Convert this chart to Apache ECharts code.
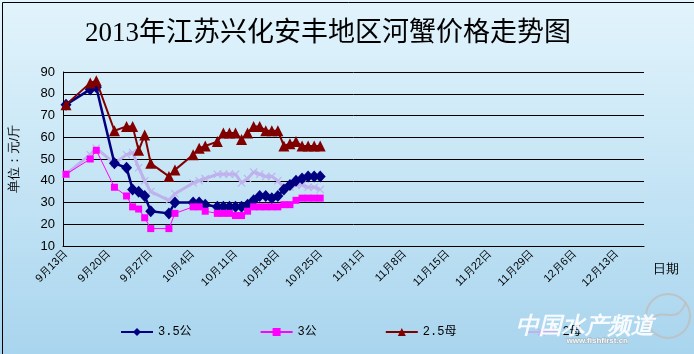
<!DOCTYPE html>
<html>
<head>
<meta charset="utf-8">
<script src="https://cdn.jsdelivr.net/npm/echarts@6/dist/echarts.min.js"></script>
<style>
    html, body { margin: 0; padding: 0; }
    #crab { width: 694px; height: 354px; }
</style>
</head>
<body>
<div id="crab"></div>
<script>
// observation dates
const obsDates = [
    '9月13日', '9月17日', '9月18日', '9月21日', '9月23日', '9月24日', '9月25日', '9月26日',
    '9月27日', '9月30日', '10月1日', '10月4日', '10月5日', '10月6日', '10月8日', '10月9日',
    '10月10日', '10月11日', '10月12日', '10月13日', '10月14日', '10月15日', '10月16日', '10月17日',
    '10月18日', '10月19日', '10月20日', '10月21日', '10月22日', '10月23日', '10月24日', '10月25日',
];
// prices, yuan per jin
const male35 = [75, 82, 83, 48, 46, 36, 35, 33, 26, 25, 30, 30, 30, 29, 28, 28, 28, 28, 28, 29, 31, 33, 33, 32, 33, 36, 38, 40, 41, 42, 42, 42];
const male3 = [43, 50, 54, 37, 33, 28, 27, 23, 18, 18, 25, 28, 28, 26, 25, 25, 25, 24, 24, 26, 28, 28, 28, 28, 28, 29, 29, 31, 32, 32, 32, 32];
const female25 = [75, 85, 86, 63, 65, 65, 54, 61, 48, 42, 45, 52, 55, 56, 58, 62, 62, 62, 59, 62, 65, 65, 63, 63, 63, 56, 57, 58, 56, 56, 56, 56];
const female2 = [43, 52, 55, 48, 52, 53, 46, 40, 35, 31, 34, 39, 40, 41, 43, 43, 43, 43, 39, 41, 44, 43, 42, 42, 40, 37, 37, 38, 38, 37, 37, 36];
const seriesNames = ['3.5公', '3公', '2.5母', '2母'];

// day axis: 9月13日 .. 12月17日, label every 7 days
const axisStart = new Date(2013, 8, 13);
const axisDays = 96;
const dayCats = [];
for (let i = 0; i < axisDays; i++) {
    const d = new Date(axisStart.getTime() + i * 86400000);
    dayCats.push(`${d.getMonth() + 1}月${d.getDate()}日`);
}

const pairs = vals => vals.map((v, i) => [obsDates[i], v]);

const chart = echarts.init(document.getElementById('crab'));

const option = {
    backgroundColor: new echarts.graphic.LinearGradient(0, 0, 0, 1, [
        { offset: 0, color: '#e2f4fc' },
        { offset: 1, color: '#a9d5ee' },
    ]),
    title: {
        text: '2013年江苏兴化安丰地区河蟹价格走势图',
        left: 80,
        top: 15,
        textStyle: {
            fontFamily: 'Liberation Serif, Noto Sans CJK SC',
            fontSize: 27,
            fontWeight: 'normal',
            color: '#000',
        },
    },
    legend: {
        left: 115,
        top: 321,
        itemGap: 68,
        itemWidth: 32,
        itemHeight: 10,
        data: seriesNames,
        textStyle: { fontSize: 12, color: '#000', fontFamily: 'Liberation Mono, Noto Sans CJK SC' },
    },
    grid: { left: 60, top: 72, width: 584, height: 174 },
    xAxis: {
        type: 'category',
        data: dayCats,
        boundaryGap: true,
        axisLine: { lineStyle: { color: '#000', width: 1 } },
        axisTick: { interval: 6, inside: true, length: 4, lineStyle: { color: '#000' } },
        axisLabel: { interval: 6, rotate: 45, fontSize: 11, color: '#000', margin: 6 },
        splitLine: { show: false },
    },
    yAxis: {
        type: 'value',
        min: 10,
        max: 90,
        interval: 10,
        name: '单位：元/斤',
        nameLocation: 'middle',
        nameRotate: 90,
        nameGap: 42,
        nameTextStyle: { fontSize: 13, color: '#000' },
        axisLine: { show: true, lineStyle: { color: '#000' } },
        axisTick: { show: false },
        axisLabel: { fontSize: 13, color: '#000', margin: 8 },
        splitLine: { lineStyle: { color: '#000', width: 1 } },
    },
    graphic: [
        { type: 'rect', left: 0, top: 0, shape: { width: 693, height: 353 }, style: { fill: 'none', stroke: '#000', lineWidth: 1 }, z: 100 },
        { type: 'text', left: 653, top: 263, style: { text: '日期', fontSize: 13, fill: '#000' } },
        // watermark
        { type: 'circle', shape: { cx: 668, cy: 316, r: 22 }, style: { fill: 'none', stroke: 'rgba(190,190,190,0.8)', lineWidth: 2 }, z: 50 },
        { type: 'bezierCurve', shape: { x1: 648, y1: 326, x2: 686, y2: 302, cpx1: 660, cpy1: 300, cpx2: 675, cpy2: 330 }, style: { fill: 'none', stroke: 'rgba(190,190,190,0.8)', lineWidth: 2 }, z: 50 },
        { type: 'text', left: 516, top: 315, style: { text: '中国水产频道', fontSize: 23, fontStyle: 'italic', fontWeight: 'bold', fill: 'rgba(255,255,255,0.9)' }, z: 50 },
        { type: 'text', left: 566, top: 336, style: { text: 'www.fishfirst.cn', fontSize: 8, fontWeight: 'bold', fill: 'rgba(255,255,255,0.9)', stroke: 'rgba(150,150,150,0.6)', lineWidth: 1 }, z: 50 },
    ],
    series: [
        {
            name: '2母',
            type: 'line',
            data: pairs(female2),
            connectNulls: true,
            showAllSymbol: true,
            symbol: 'path://M0,1L1,0L5,4L9,0L10,1L6,5L10,9L9,10L5,6L1,10L0,9L4,5Z',
            symbolSize: 8,
            itemStyle: { color: '#bfb2ec' },
            lineStyle: { color: '#bfb2ec', width: 3 },
            z: 1,
        },
        {
            name: '3.5公',
            type: 'line',
            data: pairs(male35),
            connectNulls: true,
            showAllSymbol: true,
            symbol: 'diamond',
            symbolSize: [11, 12],
            itemStyle: { color: '#000080' },
            lineStyle: { color: '#000080', width: 2.5 },
            z: 2,
        },
        {
            name: '3公',
            type: 'line',
            data: pairs(male3),
            connectNulls: true,
            showAllSymbol: true,
            symbol: 'rect',
            symbolSize: 7,
            itemStyle: { color: '#ff00ff' },
            lineStyle: { color: '#ff00ff', width: 1 },
            z: 3,
        },
        {
            name: '2.5母',
            type: 'line',
            data: pairs(female25),
            connectNulls: true,
            showAllSymbol: true,
            symbol: 'triangle',
            symbolSize: 11,
            itemStyle: { color: '#800000' },
            lineStyle: { color: '#800000', width: 2 },
            z: 4,
        },
    ],
};

chart.setOption(option);
</script>
</body>
</html>
